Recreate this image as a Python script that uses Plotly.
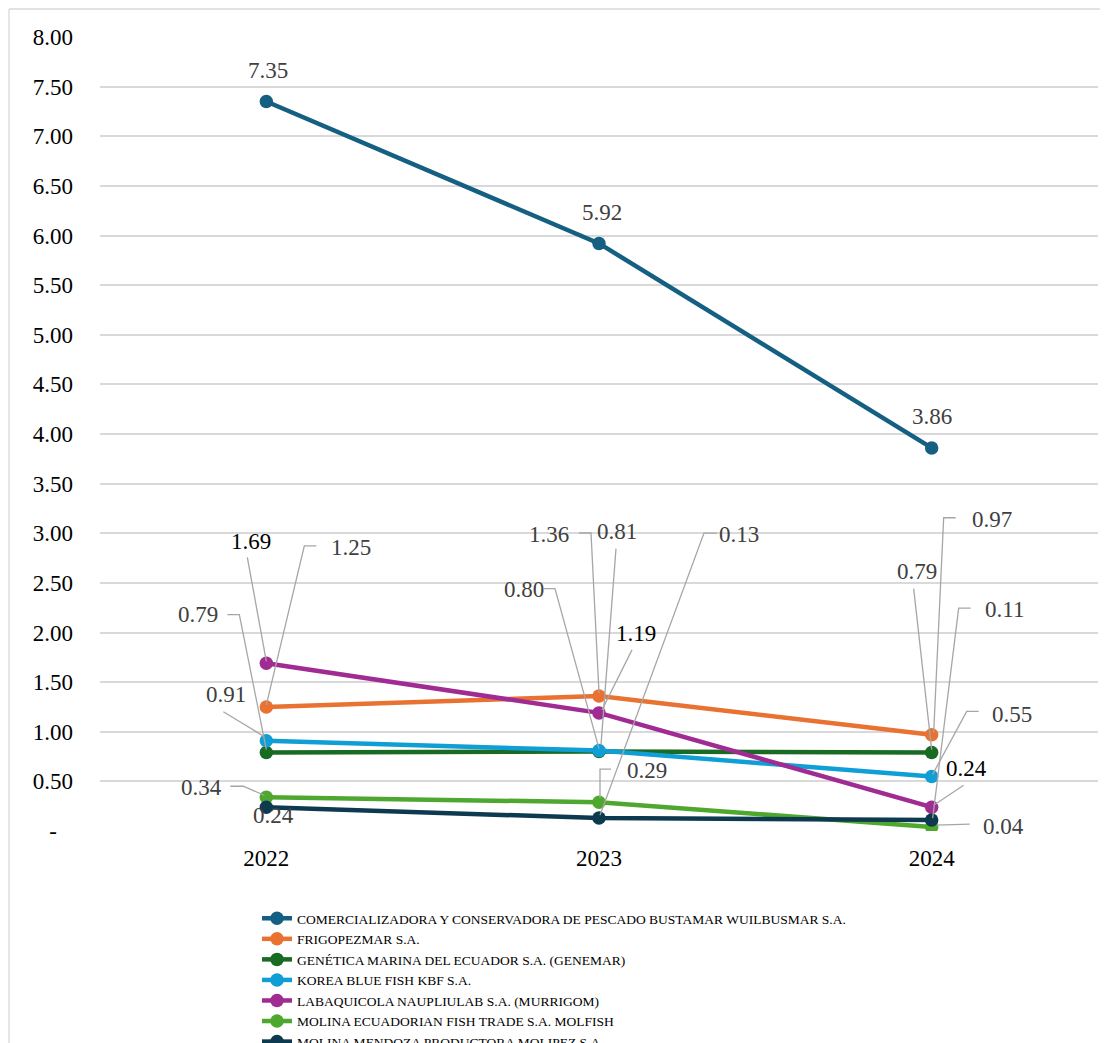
import plotly.graph_objects as go

# ---------------- data ----------------
years = [2022, 2023, 2024]
series_names = [
    "COMERCIALIZADORA Y CONSERVADORA DE PESCADO BUSTAMAR WUILBUSMAR S.A.",
    "FRIGOPEZMAR S.A.",
    "GENÉTICA MARINA DEL ECUADOR S.A. (GENEMAR)",
    "KOREA BLUE FISH KBF S.A.",
    "LABAQUICOLA NAUPLIULAB S.A. (MURRIGOM)",
    "MOLINA ECUADORIAN FISH TRADE S.A. MOLFISH",
    "MOLINA MENDOZA PRODUCTORA MOLIPEZ S.A.",
]
wuilbusmar = [7.35, 5.92, 3.86]
frigopezmar = [1.25, 1.36, 0.97]
genemar = [0.79, 0.80, 0.79]
korea_blue = [0.91, 0.81, 0.55]
labaquicola = [1.69, 1.19, 0.24]
molfish = [0.34, 0.29, 0.04]
molipez = [0.24, 0.13, 0.11]
series_values = [wuilbusmar, frigopezmar, genemar, korea_blue, labaquicola, molfish, molipez]

y_tick_vals = [0, 0.5, 1, 1.5, 2, 2.5, 3, 3.5, 4, 4.5, 5, 5.5, 6, 6.5, 7, 7.5, 8]
y_tick_text = ["-\u00a0\u00a0\u2009", "0.50", "1.00", "1.50", "2.00", "2.50", "3.00", "3.50",
               "4.00", "4.50", "5.00", "5.50", "6.00", "6.50", "7.00", "7.50", "8.00"]

# ---------------- styles ----------------
colors = ["#156082", "#E97132", "#196B24", "#0F9ED5", "#A02B93", "#4EA72E", "#0D3A4E"]
label_colors = ["#404040", "#404040", "#404040", "#404040", "#000000", "#404040", "#404040"]

# label offsets (screen px, dy down) per series per year
label_offsets = [
    [(2, -31), (3, -31), (0, -31)],
    [(85, -159), (-50, -162), (60, -215)],
    [(-68, -138), (-75, -162), (-15, -181)],
    [(-40, -46), (18, -219), (80, -62)],
    [(-15, -122), (37, -79), (35, -39)],
    [(-65, -10), (48, -32), (72, -1)],
    [(7, 8), (140, -284), (73, -211)],
]
# leader line polylines (screen px relative to the point, dy down)
leaders = [
    [None, None, None],
    [[(50, -161), (38, -161), (0, -2)], [(-20, -163), (-8, -163), (0, -3)], [(24, -217), (12, -217), (2, -2)]],
    [[(-39, -138), (-27, -138), (0, -3)], [(-55, -163), (-44, -163), (0, -3)], [(-18, -164), (0, -3)]],
    [[(-43, -29), (-2, -4)], [(17, -202), (2, -6)], [(47, -65), (35, -65), (1, -2)]],
    [[(-19, -106), (0, -2)], [(33, -63), (3, -3)], [(32, -22), (2, -2)]],
    [[(-36, -11), (-23, -11), (-2, -2)], [(12, -33), (1, -33), (1, -4)], [(38, -3), (5, -2)]],
    [None, [(118, -285), (105, -285), (1, -3)], [(39, -212), (27, -212), (1, -2)]],
]

FONT = "'Liberation Serif', 'Times New Roman', serif"
W, H = 1100, 1035          # page body has an 8px margin
L, R, T, B = 92, 10, 29, 212

fig = go.Figure()
for name, vals, col in zip(series_names, series_values, colors):
    fig.add_trace(go.Scatter(
        x=years, y=vals, name=name, mode="lines+markers",
        line=dict(color=col, width=4.5),
        marker=dict(color=col, size=13.5),
    ))

annotations = []
shapes = []
for si, vals in enumerate(series_values):
    for yi, (yr, v) in enumerate(zip(years, vals)):
        dx, dy = label_offsets[si][yi]
        annotations.append(dict(
            x=yr, y=v, xref="x", yref="y", text=f"{v:.2f}", showarrow=False,
            xshift=dx, yshift=-dy, xanchor="center", yanchor="middle",
            font=dict(family=FONT, size=23, color=label_colors[si]),
        ))
        pts = leaders[si][yi]
        if pts:
            path = "M " + " L ".join(f"{px} {-py}" for px, py in pts)
            shapes.append(dict(
                type="path", xref="x", yref="y", xsizemode="pixel", ysizemode="pixel",
                xanchor=yr, yanchor=v, path=path,
                line=dict(color="#A6A6A6", width=1.3), layer="above",
            ))

# chart area border (left and top edges, decoration)
plot_w = W - L - R
plot_h = H - T - B
bx = (1 - L) / plot_w
by = 1 + (T - 1) / plot_h
shapes.append(dict(type="line", xref="paper", yref="paper", x0=bx, x1=bx,
                   y0=-(B + 5) / plot_h, y1=by, line=dict(color="#D9D9D9", width=1.3)))
shapes.append(dict(type="line", xref="paper", yref="paper", x0=bx, x1=1 + (R + 5) / plot_w,
                   y0=by, y1=by, line=dict(color="#D9D9D9", width=1.3)))

fig.update_layout(
    width=W, height=H,
    margin=dict(l=L, r=R, t=T, b=B, autoexpand=False),
    paper_bgcolor="white", plot_bgcolor="white",
    font=dict(family=FONT, color="#000000"),
    showlegend=True,
    legend=dict(
        xref="container", yref="container", x=249 / W, y=(H - 895) / H,
        xanchor="left", yanchor="top", font=dict(family=FONT, size=13.5, color="#000000"),
        bgcolor="rgba(0,0,0,0)", traceorder="normal",
    ),
    xaxis=dict(
        range=[2021.5, 2024.5], tickvals=years, ticktext=[str(y) for y in years],
        showgrid=False, zeroline=False, showline=False, ticks="",
        tickfont=dict(family=FONT, size=23, color="#000000"), ticklabelstandoff=11,
    ),
    yaxis=dict(
        range=[0, 8], tickvals=y_tick_vals, ticktext=y_tick_text,
        showgrid=True, gridcolor="#D9D9D9", gridwidth=1.5, zeroline=False, showline=False,
        ticks="", tickfont=dict(family=FONT, size=23, color="#000000"), ticklabelstandoff=26,
    ),
    annotations=annotations,
    shapes=shapes,
)

fig.write_html("out.html")
